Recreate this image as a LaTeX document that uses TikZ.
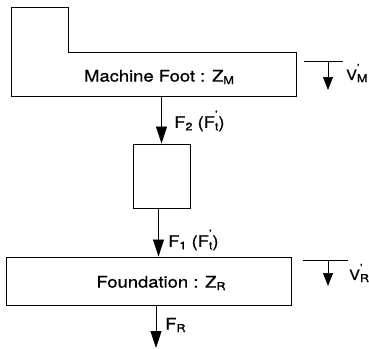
\documentclass[tikz,border=0pt]{standalone}
\usepackage{fontspec}
\setmainfont{TeX Gyre Heros}[FakeStretch=1.15, FakeBold=0.8]
\usetikzlibrary{arrows.meta}

\newcommand{\lowsub}[1]{\raisebox{-0.3ex}{\fontsize{11}{11}\selectfont #1}}
\newcommand{\primesub}[1]{\rlap{\raisebox{1.1ex}{\fontsize{11}{11}\selectfont '}}\raisebox{-0.3ex}{\fontsize{11}{11}\selectfont #1}}

\begin{document}
\begin{tikzpicture}[
    x=1pt, y=-1pt,
    node distance=105pt,
    block/.style={draw, line width=0.9pt, inner sep=0pt},
    txt/.style={inner sep=0pt, font=\fontsize{16}{19}\selectfont},
    vtxt/.style={inner sep=0pt, font=\fontsize{14}{17}\selectfont},
    force/.style={line width=0.8pt, -{Triangle[length=17pt, width=11pt]}},
    vel/.style={line width=0.7pt, -{Triangle[length=13pt, width=10pt]}}
  ]
    \useasboundingbox (0,0) rectangle (369,348);

    \node[minimum width=284pt, minimum height=43pt, inner sep=0pt] (foot) at (154,74.5) {};
    \draw[block, line join=miter] (foot.north east) |- (foot.south west) -- ++(0,-89) -- ++(57,0) |- (foot.north east) -- cycle;
    \node[txt] (footlabel) at (159,77) {Machine Foot : Z\lowsub{M}};

    \node[block, minimum width=57pt, minimum height=64pt] (mass) at (161.5,176) {};
    \node[block, minimum width=285pt, minimum height=48pt, below of=mass, xshift=-13pt] (found) {};
    \node[txt] (foundlabel) at (161,283) {Foundation : Z\lowsub{R}};
    \coordinate (ground) at (156,348);

    \draw[force] (foot.south -| mass) -- (mass.north);
    \draw[force] ([xshift=-3pt]mass.south) -- ([xshift=-3pt]mass.south |- found.north);
    \draw[force] (found.south -| ground) -- (ground);

    \node[txt, anchor=west] (f2) at (174,121) {F\lowsub{2} (F\primesub{t})};
    \node[txt, anchor=west] (f1) at (168,240) {F\lowsub{1} (F\primesub{t})};
    \node[txt, anchor=west] (fr) at (165,325) {F\lowsub{R}};

    % velocity markers
    \coordinate (vm) at (328,61);
    \draw[line width=0.8pt] ([xshift=-24pt]vm) -- ([xshift=15pt]vm);
    \draw[vel] (vm) -- ++(0,29);
    \node[vtxt, anchor=west] (vmlabel) at (346,73) {V\primesub{M}};

    \coordinate (vr) at (328,260);
    \draw[line width=0.8pt] ([xshift=-25pt]vr) -- ([xshift=20pt]vr);
    \draw[vel] (vr) -- ++(0,26);
    \node[vtxt, anchor=west] (vrlabel) at (349,273) {V\primesub{R}};
  \end{tikzpicture}
\end{document}
